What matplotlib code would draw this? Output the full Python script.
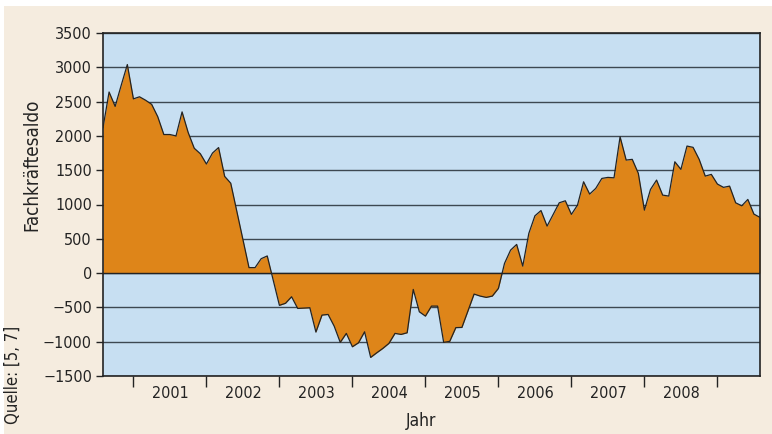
import numpy as np
import matplotlib
matplotlib.use("Agg")
import matplotlib.pyplot as plt
from matplotlib.patches import Rectangle

# monthly values, Aug 2000 .. Aug 2009
saldo = [
    2120, 2640, 2430, 2740, 3040, 2540, 2570, 2520, 2460, 2280,
    2020, 2020, 2000, 2350, 2050, 1820, 1740, 1590, 1750, 1830,
    1410, 1310, 900, 490, 80, 80, 210, 250, -110, -470,
    -440, -345, -515, -510, -505, -860, -612, -603, -773, -1010,
    -879, -1074, -1016, -856, -1229, -1162, -1098, -1025, -879, -894,
    -870, -238, -564, -627, -481, -481, -1010, -995, -795, -792,
    -550, -306, -335, -354, -335, -223, 141, 335, 418, 102,
    579, 835, 912, 685, 855, 1025, 1054, 856, 991, 1331,
    1152, 1235, 1380, 1395, 1389, 1987, 1648, 1658, 1454, 918,
    1220, 1356, 1137, 1123, 1623, 1512, 1852, 1833, 1658, 1414,
    1439, 1298, 1250, 1268, 1025, 981, 1074, 860, 812,
]
years = ['2001', '2002', '2003', '2004', '2005', '2006', '2007', '2008']
first_jan = 5  # index of January 2001
y_ticks = [3500, 3000, 2500, 2000, 1500, 1000, 500, 0, -500, -1000, -1500]

beige = '#f5ecdf'
blue = '#c7dff2'
orange = '#de8519'
dark = '#232323'

plt.rcParams['font.family'] = ['DejaVu Sans']
plt.rcParams['font.stretch'] = 'condensed'

fig = plt.figure(figsize=(7.72, 4.34), dpi=100, facecolor='white')
# beige panel behind everything
fig.patches.append(Rectangle((4 / 772, 0), 1, 1 - 6 / 434, transform=fig.transFigure,
                             facecolor=beige, edgecolor='none', zorder=-10))

ax = fig.add_axes([103 / 772, 1 - 376 / 434, 657 / 772, 343 / 434])
ax.set_facecolor(blue)

x = np.arange(len(saldo))
vals = np.array(saldo)

ax.yaxis.grid(True, color='#3d4852', lw=1.0, zorder=0)
ax.set_axisbelow(True)
ax.fill_between(x, vals, 0, color=orange, lw=0, zorder=2)
ax.plot(x, vals, color=dark, lw=0.9, zorder=3)
ax.axhline(0, color=dark, lw=1.0, zorder=4)

ax.set_xlim(0, len(saldo) - 1)
ax.set_ylim(-1500, 3500)
ax.set_yticks(y_ticks)
ax.set_yticklabels([str(v).replace('-', '\u2212') for v in y_ticks])

bounds = [first_jan + 12 * k for k in range(len(years) + 1)]
mids = [first_jan + 6 + 12 * k for k in range(len(years))]
ax.set_xticks(bounds)
ax.set_xticklabels([])
ax.set_xticks(mids, minor=True)
ax.set_xticklabels(years, minor=True)
ax.tick_params(axis='x', which='major', length=8, width=1, color=dark)
ax.tick_params(axis='x', which='minor', length=0, pad=7, labelsize=11.5, labelcolor=dark)
ax.tick_params(axis='y', length=5, width=1, color=dark, labelsize=11.5, labelcolor=dark, pad=3)

for s in ax.spines.values():
    s.set_color(dark)
    s.set_linewidth(1.2)
    s.set_zorder(5)

fig.text(421 / 772, 1 - 421 / 434, 'Jahr', ha='center', va='center', fontsize=12.5, color=dark)
fig.text(32 / 772, 1 - 165 / 434, 'Fachkräftesaldo', rotation=90, ha='center', va='center',
         fontsize=13.5, color=dark)
fig.text(13 / 772, 1 - 375 / 434, 'Quelle: [5, 7]', rotation=90, ha='center', va='center',
         fontsize=12, color=dark)

fig.savefig('out.png', dpi=100, facecolor=fig.get_facecolor())
